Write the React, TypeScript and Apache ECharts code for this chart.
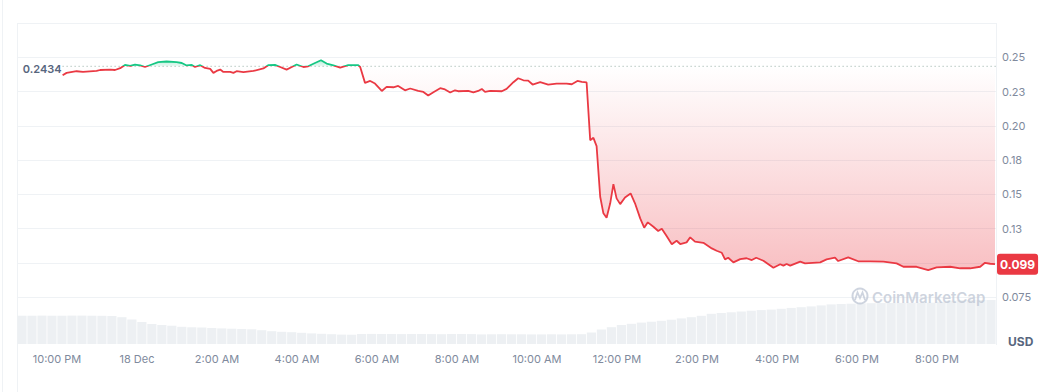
import React, { useEffect, useRef } from "react";
import * as echarts from "echarts";

// ---- data (hours counted from 17 Dec 00:00) ----
const baseline = 0.2434;
const lastPrice = 0.099;

const timesH = [
  22.14, 22.24, 22.49, 22.65, 22.99, 23.08, 23.33, 23.45, 23.58, 23.7,
  23.83, 23.95, 24.08, 24.2, 24.37, 24.53, 24.74, 24.99, 25.12, 25.24,
  25.37, 25.45, 25.58, 25.7, 25.83, 25.91, 25.99, 26.08, 26.16, 26.33,
  26.41, 26.49, 26.66, 26.91, 27.16, 27.28, 27.45, 27.58, 27.74, 27.87,
  27.99, 28.16, 28.28, 28.45, 28.6, 28.74, 28.91, 29.08, 29.28, 29.53,
  29.58, 29.7, 29.83, 29.95, 30.12, 30.24, 30.41, 30.53, 30.7, 30.83,
  31.03, 31.16, 31.28, 31.41, 31.58, 31.7, 31.83, 31.95, 32.03, 32.28,
  32.41, 32.53, 32.62, 32.7, 32.83, 33.12, 33.24, 33.41, 33.53, 33.66,
  33.78, 33.89, 34.08, 34.28, 34.49, 34.74, 34.87, 35.01, 35.12, 35.24,
  35.33, 35.41, 35.49, 35.58, 35.66, 35.74, 35.83, 35.91, 35.99, 36.08,
  36.2, 36.34, 36.45, 36.58, 36.68, 36.77, 36.91, 37.03, 37.12, 37.24,
  37.37, 37.49, 37.58, 37.74, 37.83, 37.95, 38.16, 38.37, 38.49, 38.62,
  38.7, 38.78, 38.91, 39.08, 39.24, 39.37, 39.48, 39.66, 39.91, 40.08,
  40.16, 40.24, 40.33, 40.58, 40.7, 41.08, 41.24, 41.45, 41.53, 41.78,
  42.03, 42.33, 42.66, 42.99, 43.16, 43.49, 43.78, 43.99, 44.33, 44.58,
  44.83, 45.08, 45.2, 45.33, 45.45,
];

const prices = [
  0.2369, 0.2386, 0.2398, 0.2393, 0.24, 0.2407, 0.241, 0.2407, 0.242, 0.2444,
  0.2437, 0.2447, 0.244, 0.2429, 0.2447, 0.2464, 0.2469, 0.2464, 0.2458, 0.244,
  0.2444, 0.2429, 0.2442, 0.2422, 0.2415, 0.2386, 0.24, 0.241, 0.2393, 0.2393,
  0.2386, 0.2398, 0.2391, 0.24, 0.2418, 0.2442, 0.2444, 0.2429, 0.241, 0.2429,
  0.2447, 0.2429, 0.2434, 0.2458, 0.2478, 0.2454, 0.244, 0.2425, 0.2442, 0.2442,
  0.2429, 0.2313, 0.2327, 0.2308, 0.2254, 0.2284, 0.2281, 0.2291, 0.2259, 0.2272,
  0.2254, 0.2247, 0.2221, 0.2245, 0.2274, 0.2265, 0.2243, 0.2259, 0.2252, 0.2254,
  0.2243, 0.2254, 0.2269, 0.2247, 0.2254, 0.2252, 0.2269, 0.2318, 0.2347, 0.2332,
  0.233, 0.2301, 0.2318, 0.2301, 0.2308, 0.2308, 0.2303, 0.2327, 0.232, 0.2316,
  0.1895, 0.1912, 0.1851, 0.1482, 0.1361, 0.1329, 0.1434, 0.1574, 0.147, 0.1428,
  0.1477, 0.1506, 0.1434, 0.1324, 0.1256, 0.1295, 0.1263, 0.1232, 0.1248, 0.1195,
  0.1135, 0.1161, 0.1137, 0.1149, 0.1186, 0.1154, 0.1146, 0.1105, 0.1088, 0.1073,
  0.1025, 0.1037, 0.1003, 0.1027, 0.1033, 0.102, 0.1037, 0.1015, 0.0964, 0.0989,
  0.0979, 0.0991, 0.0979, 0.1008, 0.0996, 0.1003, 0.1025, 0.1037, 0.1013, 0.104,
  0.1011, 0.101, 0.1008, 0.0996, 0.0971, 0.0971, 0.0947, 0.0967, 0.0971, 0.096,
  0.096, 0.0971, 0.1, 0.0993, 0.099,
];

// volume (relative units), one bar per ~15 minutes across the visible window
const volumes = [
  28.3, 28.3, 28.4, 28.3, 28.3, 28.4, 28.4, 28.3, 28.2, 28.0,
  26.8, 24.5, 22.0, 20.0, 19.0, 18.3, 17.2, 16.7, 16.5, 16.0,
  15.6, 15.3, 15.0, 14.7, 13.8, 12.8, 12.2, 11.8, 11.2, 10.6,
  10.2, 9.8, 9.4, 9.3, 10.0, 10.1, 10.0, 10.0, 9.9, 10.0,
  10.0, 9.9, 9.8, 10.0, 10.0, 9.9, 9.6, 9.7, 9.8, 9.7,
  9.7, 9.6, 9.6, 9.7, 9.6, 9.7, 9.8, 11.5, 14.5, 16.8,
  19.0, 20.2, 21.4, 22.3, 23.2, 24.3, 25.6, 26.8, 28.2, 30.2,
  31.0, 31.7, 32.5, 33.3, 33.9, 34.4, 35.2, 36.1, 36.8, 37.6,
  38.6, 39.6, 40.0, 40.3, 40.6, 40.8, 40.9, 41.0, 41.1, 41.2,
  41.3, 41.3, 42.3, 43.5, 43.8, 44.0, 44.0, 44.0,
];

const xTickHours = [22, 24, 26, 28, 30, 32, 34, 36, 38, 40, 42, 44];
const xTickLabels = [
  "10:00 PM", "18 Dec", "2:00 AM", "4:00 AM", "6:00 AM", "8:00 AM",
  "10:00 AM", "12:00 PM", "2:00 PM", "4:00 PM", "6:00 PM", "8:00 PM",
];
const yTickValues = [0.075, 0.1, 0.125, 0.15, 0.175, 0.2, 0.225, 0.25];
const yTickLabels = ["0.075", "", "0.13", "0.15", "0.18", "0.20", "0.23", "0.25"];

const X_MIN = 21.0;
const X_MAX = 45.475;
const RED = "#ea3943";
const GREEN = "#16c784";
const FONT = "Inter, 'Noto Sans', sans-serif";
const GRID_LINE = "#eff2f5";

export default function App() {
  const ref = useRef<HTMLDivElement>(null);

  useEffect(() => {
    if (!ref.current) return;
    const chart = echarts.init(ref.current, null, { renderer: "svg" });

    const priceData = timesH.map((t, i) => [t, prices[i]]);
    const redArea = timesH.map((t, i) => [t, Math.min(prices[i], baseline)]);
    const greenArea = timesH.map((t, i) => [t, Math.max(prices[i], baseline)]);
    const baselineData = [
      [timesH[0], baseline],
      [X_MAX, baseline],
    ];
    const lastData = [[X_MAX, lastPrice]];

    const yFmt = (v: number) => {
      for (let i = 0; i < yTickValues.length; i++) {
        if (Math.abs(v - yTickValues[i]) < 1e-6) return yTickLabels[i];
      }
      return "";
    };
    const xFmt = (v: number) => {
      for (let i = 0; i < xTickHours.length; i++) {
        if (Math.abs(v - xTickHours[i]) < 1e-6) return xTickLabels[i];
      }
      return "";
    };

    const option: any = {
      animation: false,
      textStyle: { fontFamily: FONT },
      grid: [
        { left: 17, right: 47, top: 23, bottom: 60.7 },
        { left: 17, right: 47, top: 284, bottom: 48 },
      ],
      xAxis: [
        { type: "value", gridIndex: 0, min: X_MIN, max: X_MAX, show: false },
        {
          type: "category",
          gridIndex: 1,
          data: volumes.map((_, i) => String(i)),
          show: false,
        },
        {
          type: "value",
          gridIndex: 1,
          min: X_MIN,
          max: X_MAX,
          interval: 1,
          position: "bottom",
          axisLine: { show: false },
          axisTick: { show: false },
          splitLine: { show: false },
          axisLabel: {
            formatter: xFmt,
            showMinLabel: false,
            showMaxLabel: false,
            color: "#808a9d",
            fontSize: 11,
            fontFamily: FONT,
            margin: 9,
          },
        },
      ],
      yAxis: [
        {
          type: "value",
          gridIndex: 0,
          position: "right",
          min: 0.05,
          max: 0.275,
          interval: 0.025,
          axisLine: { show: false },
          axisTick: { show: false },
          splitLine: {
            show: true,
            showMinLine: false,
            lineStyle: { color: GRID_LINE, width: 1 },
          },
          axisLabel: {
            showMinLabel: false,
            showMaxLabel: false,
            margin: 6,
            formatter: yFmt,
            color: "#808a9d",
            fontSize: 11,
            fontFamily: FONT,
          },
        },
        { type: "value", gridIndex: 1, min: 0, max: 60, show: false },
      ],
      visualMap: {
        type: "piecewise",
        show: false,
        seriesIndex: 3,
        dimension: 1,
        pieces: [
          { gt: 0, lte: baseline, color: RED },
          { gt: baseline, lte: 1, color: GREEN },
        ],
        outOfRange: { color: RED },
      },
      series: [
        {
          type: "line",
          xAxisIndex: 0,
          yAxisIndex: 0,
          data: redArea,
          showSymbol: false,
          silent: true,
          lineStyle: { width: 0, opacity: 0 },
          areaStyle: {
            origin: baseline,
            color: new echarts.graphic.LinearGradient(0, 0, 0, 1, [
              { offset: 0, color: "rgba(234,57,67,0.0)" },
              { offset: 1, color: "rgba(234,57,67,0.32)" },
            ]),
            opacity: 1,
          },
          z: 1,
        },
        {
          type: "line",
          xAxisIndex: 0,
          yAxisIndex: 0,
          data: greenArea,
          showSymbol: false,
          silent: true,
          lineStyle: { width: 0, opacity: 0 },
          areaStyle: {
            origin: baseline,
            color: new echarts.graphic.LinearGradient(0, 0, 0, 1, [
              { offset: 0, color: "rgba(22,199,132,0.3)" },
              { offset: 1, color: "rgba(22,199,132,0.08)" },
            ]),
            opacity: 1,
          },
          z: 1,
        },
        {
          type: "bar",
          xAxisIndex: 1,
          yAxisIndex: 1,
          data: volumes,
          barCategoryGap: "8%",
          silent: true,
          itemStyle: { color: "#edf0f3" },
          z: 0,
        },
        {
          type: "line",
          xAxisIndex: 0,
          yAxisIndex: 0,
          data: priceData,
          showSymbol: false,
          lineStyle: { width: 1.8 },
          z: 3,
        },
        {
          // reference (open) price, dotted
          type: "line",
          xAxisIndex: 0,
          yAxisIndex: 0,
          data: baselineData,
          symbol: "circle",
          symbolSize: 0.01,
          showSymbol: true,
          silent: true,
          lineStyle: { color: "#a9bdb6", type: [1, 3], width: 1.2 },
          itemStyle: { color: "#a9bdb6" },
          label: {
            show: true,
            position: "left",
            distance: 1,
            offset: [0, 3],
            formatter: (p: any) => (p.dataIndex === 0 ? String(baseline) : ""),
            color: "#58667e",
            fontSize: 11,
            fontWeight: 600,
            fontFamily: FONT,
          },
          z: 2,
        },
        {
          // last price badge
          type: "line",
          xAxisIndex: 0,
          yAxisIndex: 0,
          data: lastData,
          symbol: "circle",
          symbolSize: 0.01,
          showSymbol: true,
          silent: true,
          clip: false,
          itemStyle: { color: RED },
          label: {
            show: true,
            position: "right",
            distance: 1,
            formatter: lastPrice.toFixed(3),
            color: "#ffffff",
            backgroundColor: RED,
            borderRadius: 3,
            padding: [5, 3, 4, 3],
            fontSize: 12,
            fontWeight: 700,
            fontFamily: FONT,
          },
          z: 5,
        },
      ],
      graphic: [
        { type: "line", shape: { x1: 2.5, y1: 0, x2: 2.5, y2: 392 }, style: { stroke: GRID_LINE, lineWidth: 1 }, silent: true },
        { type: "line", shape: { x1: 17.5, y1: 23, x2: 17.5, y2: 392 }, style: { stroke: GRID_LINE, lineWidth: 1 }, silent: true },
        { type: "line", shape: { x1: 996.5, y1: 23, x2: 996.5, y2: 345 }, style: { stroke: GRID_LINE, lineWidth: 1 }, silent: true },
        {
          type: "text",
          x: 1008,
          y: 341,
          style: { text: "USD", fill: "#58667e", font: `700 12px ${FONT}`, verticalAlign: "middle" },
          silent: true,
        },
        {
          type: "circle",
          shape: { cx: 860, cy: 296, r: 7.5 },
          style: { fill: "none", stroke: "rgba(190,198,212,0.75)", lineWidth: 2 },
          silent: true,
          z: 10,
        },
        {
          type: "polyline",
          shape: { points: [[855, 300], [857.5, 292.5], [860, 298], [862.5, 292.5], [865, 300]] },
          style: { fill: "none", stroke: "rgba(190,198,212,0.75)", lineWidth: 1.8 },
          silent: true,
          z: 10,
        },
        {
          type: "text",
          x: 872,
          y: 297.5,
          style: {
            text: "CoinMarketCap",
            fill: "rgba(190,198,212,0.75)",
            font: `600 15px ${FONT}`,
            verticalAlign: "middle",
          },
          silent: true,
          z: 10,
        },
      ],
    };

    chart.setOption(option);
    return () => chart.dispose();
  }, []);

  return (
    <div
      ref={ref}
      style={{ position: "absolute", left: 0, top: 0, width: 1043, height: 392, background: "#ffffff" }}
    />
  );
}
